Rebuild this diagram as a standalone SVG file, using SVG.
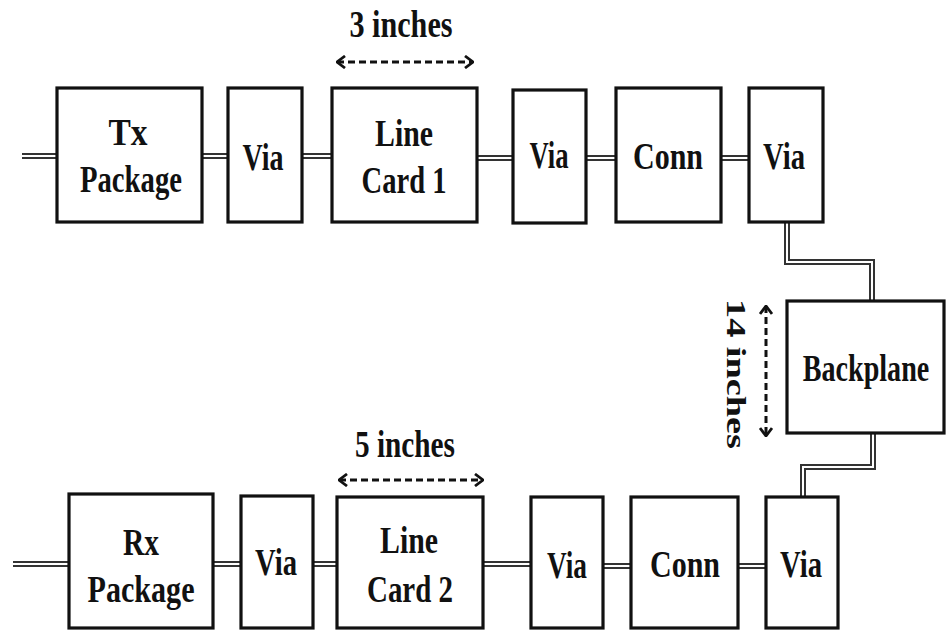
<svg xmlns="http://www.w3.org/2000/svg" width="946" height="630" viewBox="0 0 946 630">
<style>
.box{fill:#fff;stroke:#111;stroke-width:3.2}
.t{font-family:"Liberation Serif","Times New Roman",serif;font-weight:bold;font-size:37px;fill:#111;text-anchor:middle}
.wo{fill:none;stroke:#333;stroke-width:6}
.wi{fill:none;stroke:#fff;stroke-width:2}
.dim{fill:none;stroke:#111;stroke-width:3;stroke-dasharray:7 4}
</style>
<defs>
<marker id="ah" viewBox="0 0 10 14" refX="9" refY="7" markerWidth="10" markerHeight="14" markerUnits="userSpaceOnUse" orient="auto-start-reverse">
<path d="M1,1 L9,7 L1,13" fill="none" stroke="#111" stroke-width="2.8"/>
</marker>
</defs>
<g id="connectors">
<path class="wo" d="M22,156 H57 M202,156 H228 M302,156 H332 M477,158 H513 M586,158 H616 M721,158 H749 M787,222 V262 H872 V301 M873,433 V467 H803 V497 M13,564 H69 M213,564 H241 M313,564 H337 M483,564 H531 M603,566 H631 M738,566 H766"/>
<path class="wi" d="M20,156 H59 M200,156 H230 M300,156 H334 M475,158 H515 M584,158 H618 M719,158 H751 M787,220 V262 H872 V303 M873,431 V467 H803 V499 M11,564 H71 M211,564 H243 M311,564 H339 M481,564 H533 M601,566 H633 M736,566 H768"/>
<path class="dim" d="M337,62 H473" marker-start="url(#ah)" marker-end="url(#ah)"/>
<path class="dim" d="M339,480 H483" marker-start="url(#ah)" marker-end="url(#ah)"/>
<path class="dim" d="M766,306 V436" marker-start="url(#ah)" marker-end="url(#ah)"/>
</g>
<g id="tx-package"><rect class="box" x="57" y="88" width="145" height="134"/><text class="t" x="128" y="145" textLength="39" lengthAdjust="spacingAndGlyphs">Tx</text><text class="t" x="131" y="192" textLength="102" lengthAdjust="spacingAndGlyphs">Package</text></g>
<g id="via-t1"><rect class="box" x="228" y="88" width="74" height="134"/><text class="t" x="263" y="170" textLength="41" lengthAdjust="spacingAndGlyphs">Via</text></g>
<g id="line-card-1"><rect class="box" x="332" y="88" width="145" height="134"/><text class="t" x="404" y="146" textLength="58" lengthAdjust="spacingAndGlyphs">Line</text><text class="t" x="404" y="193" textLength="85" lengthAdjust="spacingAndGlyphs">Card 1</text></g>
<g id="via-t2"><rect class="box" x="513" y="90" width="73" height="133"/><text class="t" x="549" y="168" textLength="39" lengthAdjust="spacingAndGlyphs">Via</text></g>
<g id="conn-t"><rect class="box" x="616" y="88" width="105" height="134"/><text class="t" x="668" y="169" textLength="70" lengthAdjust="spacingAndGlyphs">Conn</text></g>
<g id="via-t3"><rect class="box" x="749" y="88" width="74" height="134"/><text class="t" x="784" y="169" textLength="42" lengthAdjust="spacingAndGlyphs">Via</text></g>
<g id="backplane"><rect class="box" x="787" y="301" width="157" height="132"/><text class="t" transform="translate(866,381) scale(0.76,1)" x="0" y="0">Backplane</text></g>
<g id="rx-package"><rect class="box" x="69" y="494" width="144" height="134"/><text class="t" x="141" y="555" textLength="36" lengthAdjust="spacingAndGlyphs">Rx</text><text class="t" x="141" y="602" textLength="107" lengthAdjust="spacingAndGlyphs">Package</text></g>
<g id="via-b1"><rect class="box" x="241" y="496" width="72" height="132"/><text class="t" x="276" y="575" textLength="42" lengthAdjust="spacingAndGlyphs">Via</text></g>
<g id="line-card-2"><rect class="box" x="337" y="497" width="146" height="131"/><text class="t" x="409" y="553" textLength="58" lengthAdjust="spacingAndGlyphs">Line</text><text class="t" x="410" y="602" textLength="86" lengthAdjust="spacingAndGlyphs">Card 2</text></g>
<g id="via-b2"><rect class="box" x="531" y="497" width="72" height="131"/><text class="t" x="567" y="578" textLength="40" lengthAdjust="spacingAndGlyphs">Via</text></g>
<g id="conn-b"><rect class="box" x="631" y="497" width="107" height="131"/><text class="t" x="685" y="577" textLength="70" lengthAdjust="spacingAndGlyphs">Conn</text></g>
<g id="via-b3"><rect class="box" x="766" y="497" width="72" height="131"/><text class="t" x="801" y="577" textLength="42" lengthAdjust="spacingAndGlyphs">Via</text></g>
<g id="labels">
<text class="t" x="401" y="37" textLength="103" lengthAdjust="spacingAndGlyphs">3 inches</text>
<text class="t" x="405" y="457" textLength="100" lengthAdjust="spacingAndGlyphs">5 inches</text>
<text class="t" transform="translate(727,374) scale(0.76,1) rotate(90)" x="0" y="0" textLength="150" lengthAdjust="spacingAndGlyphs">14 inches</text>
</g>
</svg>
